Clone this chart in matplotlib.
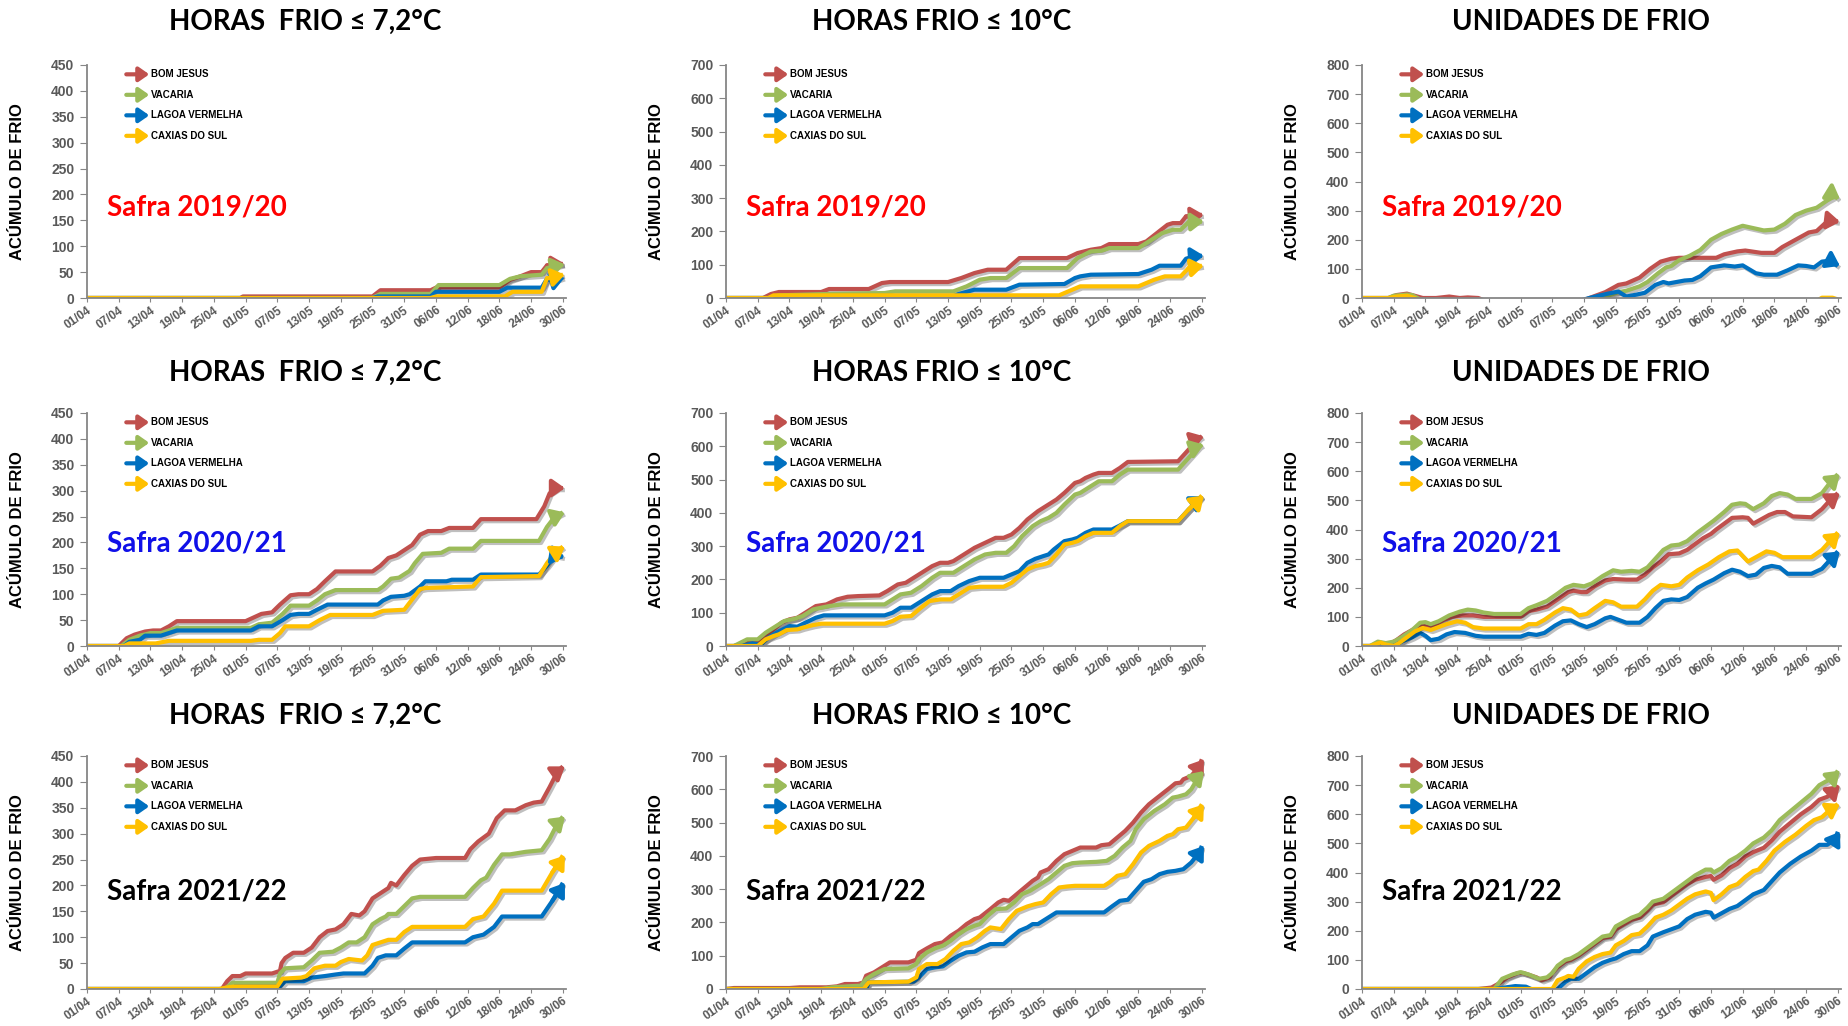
import matplotlib
matplotlib.use("Agg")
import matplotlib.pyplot as plt
import matplotlib.patheffects as pe

plt.rcParams['font.family'] = ['Lato', 'DejaVu Sans']

# x axis: day index, 0 = 01/04 ... 90 = 30/06
tick_days = [0, 6, 12, 18, 24, 30, 36, 42, 48, 54, 60, 66, 72, 78, 84, 90]
tick_labels = ["01/04", "07/04", "13/04", "19/04", "25/04", "01/05", "07/05", "13/05",
               "19/05", "25/05", "31/05", "06/06", "12/06", "18/06", "24/06", "30/06"]

stations = ["BOM JESUS", "VACARIA", "LAGOA VERMELHA", "CAXIAS DO SUL"]
colors = ["#C0504D", "#9BBB59", "#0070C0", "#FFC000"]

titles = ["HORAS  FRIO \u2264 7,2\u00b0C", "HORAS FRIO \u2264 10\u00b0C", "UNIDADES DE FRIO"]
y_max = [450, 700, 800]
y_step = [50, 100, 100]
safras = ["Safra 2019/20", "Safra 2020/21", "Safra 2021/22"]
safra_colors = ["#FF0000", "#1010E8", "#000000"]

# ---- Safra 2019/20 ----
hf7_1920_bj = [(0,0),(29,0),(29.5,3),(54,3),(55.5,15),(65,15),(66,20),(78,20),(80,35),(82,42),(84,50),(86,50),(87,63),(90,66)]
hf7_1920_vac = [(0,0),(54,0),(55.5,8),(65,8),(66.5,25),(78,25),(80,37),(82,42),(86,45),(87,58),(90,65)]
hf7_1920_lv = [(0,0),(54,0),(55,3),(65,3),(66,12),(78,12),(79.5,20),(86,20),(87,37),(88,33),(90,40)]
hf7_1920_cx = [(0,0),(65,0),(66,3),(79,3),(80.5,12),(86,12),(87,38),(90,45)]

hf10_1920_bj = [(0,0),(7,0),(8.5,12),(10,18),(18,18),(19.5,27),(27,27),(29.5,45),(31,48),(42,48),(44.5,60),(47,75),(49.5,85),(53,85),(55.5,120),(64.5,120),(66.5,135),(69,145),(71,150),(72.5,162),(78,162),(79.5,170),(81.5,195),(83.5,220),(84.5,225),(86,225),(87,245),(90,250)]
hf10_1920_vac = [(0,0),(8,0),(10,8),(19,12),(30,15),(32,20),(43,20),(45.5,35),(48,55),(50,60),(53,60),(55.5,90),(64.5,90),(66.5,120),(69,140),(71,142),(72.5,150),(78,150),(80.5,175),(82.5,195),(84.5,205),(86,205),(87.5,228),(90,230)]
hf10_1920_lv = [(0,0),(12,0),(13,5),(43,5),(44,12),(47,25),(53,25),(55.5,40),(64,42),(66,60),(67,65),(69,70),(78,72),(80.5,85),(82,97),(86,97),(87,118),(88.5,125),(90,127)]
hf10_1920_cx = [(0,0),(8,0),(9,8),(63,8),(65.5,25),(67,35),(78,35),(81,55),(83,65),(86,65),(87.5,90),(90,97)]

uf_1920_bj = [(0,0),(5,0),(6.5,10),(8.5,15),(11.5,0),(14,0),(16.5,5),(18.5,0),(20,2),(22,0),(24,-15),(41,-15),(43,0),(46,20),(48.5,45),(50,50),(52.5,70),(54.5,100),(56.5,125),(58.5,135),(60,138),(67,138),(68.5,150),(71,160),(72.5,163),(75.5,155),(78,155),(79.5,175),(82,200),(84.5,225),(86,230),(87.5,255),(89,265),(90,262)]
uf_1920_vac = [(0,0),(5,0),(6,8),(8.5,12),(9.5,10),(10.5,0),(12,-15),(42,-15),(44,0),(46,5),(48.5,20),(50,25),(52.5,40),(54,55),(56,85),(57.5,105),(58.5,110),(60,130),(62,145),(64,165),(66,200),(68,220),(70,235),(72,248),(74,240),(76,232),(78,235),(80,255),(82,285),(84,300),(86,310),(88,335),(89.5,350),(90,340)]
uf_1920_lv = [(0,0),(3,-10),(41,-10),(43,0),(46.5,15),(48.5,22),(50,5),(52,12),(53.5,18),(55.5,45),(57,55),(58,50),(59.5,55),(61,60),(62.5,62),(64,75),(66,105),(68.5,112),(70.5,108),(72,112),(74.5,85),(76,80),(78.5,80),(80.5,95),(82.5,112),(84,110),(85.5,105),(87,125),(88.5,128),(90,110)]
uf_1920_cx = [(0,0),(5,0),(6.5,5),(8.5,8),(10,0),(12,-20),(85,-20),(87,1),(89,1),(90,-5)]

# ---- Safra 2020/21 ----
hf7_2021_bj = [(0,0),(6,0),(7.5,15),(9,22),(11,28),(12.5,30),(14,30),(15.5,38),(17,48),(30,48),(31.5,55),(33,62),(35,65),(36.5,80),(38.5,98),(40,100),(42,100),(43.5,110),(45,125),(47,144),(54,144),(55.5,155),(57,170),(58.5,175),(60,185),(61.5,195),(63,215),(64.5,222),(67,222),(68.5,228),(73,228),(74.5,245),(85,245),(86.5,270),(87.5,295),(89,305),(90,305)]
hf7_2021_vac = [(0,0),(6.5,0),(8,12),(10,20),(12,25),(14,25),(15.5,30),(17,35),(31,35),(32.5,42),(35,45),(37,62),(38.5,78),(42,78),(43.5,88),(45,100),(47,108),(55,108),(56,115),(57.5,130),(59,132),(61,145),(62,160),(63.5,178),(67,180),(68.5,188),(73,188),(74.5,203),(85.5,203),(87,230),(88.5,250),(90,258)]
hf7_2021_lv = [(0,0),(7,0),(8,8),(10,12),(11,20),(14,20),(15.5,25),(17,30),(31,30),(32.5,38),(35,38),(37,50),(38.5,60),(40,62),(42,62),(43.5,70),(45.5,80),(55,80),(56,88),(57.5,95),(60,97),(61,100),(63,115),(64,125),(68,125),(69,128),(73,128),(74.5,138),(85.5,138),(87,155),(88.5,175),(90,172)]
hf7_2021_cx = [(0,0),(7,0),(8,5),(13,5),(15.5,10),(31,10),(32.5,12),(35,12),(36.5,25),(37.5,38),(42,38),(44,50),(46,60),(54,60),(56,68),(60,70),(61.5,90),(63,110),(64,112),(73,115),(74.5,133),(85.5,135),(87,160),(88.5,180),(90,192)]

hf10_2021_bj = [(0,0),(1.5,0),(4,12),(6,12),(7.5,30),(9,50),(10.5,70),(12,80),(13.5,85),(15,100),(17,120),(19,125),(21,140),(23,148),(25,150),(29,152),(30.5,165),(32.5,185),(34,190),(35,200),(37,220),(39,240),(40.5,250),(42,250),(43,255),(45,275),(47,295),(49,310),(51,325),(52.5,325),(54,335),(55.5,355),(57,380),(59,405),(61,425),(62.5,440),(64,460),(66,490),(67,495),(68,505),(69.5,515),(70.5,520),(73,520),(74.5,535),(76,553),(85.5,555),(87.5,590),(89.5,625),(90,630)]
hf10_2021_vac = [(0,0),(1.5,0),(4,20),(6,20),(7.5,40),(9,55),(11,75),(13,82),(14.5,90),(16.5,110),(18,115),(19.5,120),(22,125),(30,125),(31.5,140),(33,155),(35,160),(37,180),(39,205),(40.5,220),(43,220),(45,240),(47,260),(49,275),(51,280),(53,280),(54.5,300),(56,330),(58,360),(59.5,375),(61,385),(62.5,400),(64,425),(66,455),(67,460),(68.5,475),(70.5,495),(73,495),(74.5,515),(76,530),(85.5,530),(87.5,565),(89.5,600),(90,605)]
hf10_2021_lv = [(0,0),(3,0),(5,8),(6.5,3),(8,25),(9.5,40),(12,60),(13.5,58),(15,70),(17,85),(18.5,92),(30,92),(31.5,100),(33,115),(35,115),(37,135),(39,155),(40.5,165),(42.5,165),(44,180),(46,195),(48,205),(52.5,205),(54,215),(55.5,225),(57,250),(58.5,262),(60,270),(61,275),(62,290),(64,315),(65.5,320),(66.5,325),(68,340),(69.5,350),(73,350),(74.5,362),(76,375),(85.5,375),(87.5,410),(89.5,440),(90,450)]
hf10_2021_cx = [(0,0),(6,0),(7.5,20),(9,30),(10,35),(11.5,48),(13.5,50),(14.5,55),(16.5,63),(18,67),(30,67),(31.5,75),(33,88),(35,90),(36.5,110),(38.5,135),(40.5,140),(42.5,140),(44,155),(46,175),(48,178),(52.5,178),(54,190),(55.5,210),(57,230),(58.5,240),(60,245),(61,250),(62.5,275),(64,305),(65.5,310),(66.5,315),(68,330),(69.5,340),(73,340),(74.5,360),(76,375),(85.5,375),(87.5,410),(90,452)]

uf_2021_bj = [(0,0),(2,0),(5,5),(6.5,20),(8,40),(10,60),(11.5,70),(12.5,65),(14,75),(15.5,90),(17,100),(19,105),(21,105),(23,100),(30,100),(31.5,120),(33,125),(35,135),(37,160),(39,185),(40,190),(41.5,185),(42.5,185),(44,205),(46,225),(47.5,230),(50,228),(52,228),(53.5,245),(55,270),(56.5,290),(58,315),(60,318),(61.5,330),(63,350),(64.5,370),(66,385),(67,400),(68.5,420),(70,440),(72,442),(73,440),(74,420),(75,430),(77,450),(78.5,460),(80,460),(81.5,445),(85,442),(87,470),(88.5,500),(90,525)]
uf_2021_vac = [(0,0),(1.5,0),(3,15),(4.5,10),(6,15),(7.5,30),(9.5,55),(11,80),(12,82),(13,75),(14.5,85),(16.5,105),(18.5,118),(20,125),(21.5,122),(23,115),(25,110),(30,110),(31.5,130),(33,140),(35,155),(37,180),(38.5,200),(40,210),(42,205),(43.5,215),(45.5,240),(47.5,260),(49,255),(51,258),(52.5,255),(54,270),(55.5,300),(57,330),(58.5,345),(60,348),(61.5,360),(63.5,390),(65,410),(66.5,430),(68.5,460),(70,485),(71.5,490),(72.5,488),(74,470),(76,490),(77.5,515),(79,525),(80.5,520),(82,505),(85,505),(87,525),(88.5,560),(90,590)]
uf_2021_lv = [(0,0),(6,0),(7.5,15),(9.5,30),(11,45),(12,35),(13,20),(14.5,25),(16,40),(17.5,48),(19.5,45),(21.5,35),(23,32),(30,32),(31.5,42),(33,38),(34.5,45),(36.5,70),(38,85),(39.5,88),(41,75),(42.5,65),(44,75),(46,95),(47,100),(48.5,90),(50,80),(52.5,80),(54,100),(55.5,130),(57,155),(58.5,160),(60,158),(61.5,168),(63.5,200),(65,215),(66.5,228),(68.5,250),(70,262),(71.5,255),(73,240),(74.5,245),(76,268),(77.5,275),(79,270),(80.5,248),(85,248),(87,265),(88.5,295),(90,325)]
uf_2021_cx = [(0,0),(1.5,0),(3.5,12),(4.5,5),(6,0),(7,10),(8.5,30),(10,50),(11.5,62),(13,55),(14.5,65),(16,75),(18,85),(19.5,80),(21,65),(23,60),(30,60),(31.5,75),(33,75),(34.5,90),(36.5,115),(38,130),(39.5,125),(41,105),(42.5,110),(44,130),(46,155),(47.5,150),(49,135),(52,135),(53.5,160),(55,190),(56.5,210),(58.5,205),(60,210),(61.5,235),(63.5,260),(65.5,280),(67.5,305),(69.5,325),(71,328),(73,290),(75,310),(76.5,325),(78,320),(79.5,305),(85,305),(87,330),(88.5,360),(90,390)]

# ---- Safra 2021/22 ----
hf7_2122_bj = [(0,0),(25.5,0),(26.5,15),(27.5,25),(29,25),(30,30),(35,30),(36.5,35),(36.8,50),(37.5,60),(39,70),(41,70),(42.5,80),(44,100),(45.5,112),(47,115),(48.5,125),(50,145),(51.5,142),(52.5,150),(54,175),(55.5,185),(57,195),(57.5,205),(58.5,200),(60,220),(61.5,238),(63,250),(66,253),(71.5,253),(72.5,270),(74,285),(76,300),(77.5,330),(79,345),(81,345),(83,355),(84.5,360),(86,362),(87.5,390),(89,420),(90,430)]
hf7_2122_vac = [(0,0),(26,0),(27.5,12),(36,12),(36.5,30),(37.5,40),(41,42),(42.5,55),(44,70),(46.5,72),(48,80),(49.5,90),(51,90),(52.5,100),(54,125),(55.5,135),(56.5,140),(57,145),(58.5,145),(60,160),(61.5,175),(63,178),(71.5,178),(73,195),(74.5,210),(75.5,215),(77,240),(78.5,260),(80,260),(83,265),(86,268),(87.5,290),(89,320),(90,333)]
hf7_2122_lv = [(0,0),(27.5,0),(28,5),(36.5,5),(37.5,15),(41,15),(42.5,22),(45,25),(47,28),(48.5,30),(52.5,30),(54,45),(55,60),(56.5,65),(58.5,65),(60,78),(61.5,90),(71.5,90),(73,100),(75,105),(77,120),(78.5,140),(86,140),(88,170),(90,205)]
hf7_2122_cx = [(0,0),(25,0),(26.5,3),(28,5),(36,5),(37,20),(40.5,22),(41.5,25),(43,40),(45,45),(47,45),(48,52),(49.5,58),(52,55),(53,65),(54,85),(55.5,90),(57,95),(58.5,95),(60,110),(61.5,120),(71.5,120),(73,135),(75,140),(77,165),(78.5,190),(86,190),(88,225),(90,258)]

hf10_2122_bj = [(0,0),(1.5,3),(12,3),(14,5),(19,5),(21,8),(22.5,15),(25,15),(26,20),(26.5,40),(28,50),(29.5,65),(31,80),(34.5,80),(36,88),(36.5,108),(38,122),(39.5,135),(41,140),(42.5,160),(44,175),(45.5,195),(47,210),(48,215),(50,240),(51.5,260),(52.5,268),(53.5,265),(55,285),(56.5,305),(58,325),(59,335),(59.5,350),(61,360),(62.5,385),(64,405),(65.5,415),(67,425),(70,425),(71,432),(72.5,435),(74,455),(75.5,475),(77,500),(78.5,530),(80,555),(82,580),(84,605),(85,618),(86,620),(86.5,630),(88,640),(89.5,670),(90,690)]
hf10_2122_vac = [(0,0),(18,0),(20,5),(23,8),(25.5,10),(26.5,30),(28,45),(30,60),(34.5,62),(36,75),(36.5,90),(38,110),(39.5,122),(41,130),(42.5,145),(44,165),(45.5,180),(47,190),(48,195),(49.5,220),(51,240),(53,242),(54.5,260),(56,285),(57.5,295),(59,310),(60,320),(61,330),(62.5,350),(64,370),(65.5,378),(67,380),(70,382),(72,385),(73.5,400),(75,425),(76.5,445),(77.5,480),(79,510),(81,535),(83,555),(84.5,575),(85.5,578),(87,585),(88,600),(89.5,640),(90,655)]
hf10_2122_lv = [(0,0),(26.5,0),(27,20),(35.5,22),(36.5,35),(38,60),(39.5,65),(41,68),(42.5,85),(44,100),(45.5,110),(47,112),(48.5,125),(50,135),(52.5,135),(54,155),(55.5,175),(57,185),(58,195),(59,195),(60.5,210),(62.5,230),(71.5,230),(73,248),(74.5,265),(76,268),(77.5,295),(79,322),(80.5,330),(82,345),(83.5,352),(85,355),(86.5,360),(88,380),(89.5,410),(90,430)]
hf10_2122_cx = [(0,0),(26,0),(27,20),(34.5,22),(36,35),(36.5,60),(38,75),(40,75),(41.5,90),(43,115),(44.5,135),(46,140),(47.5,155),(49,175),(50,185),(52,180),(53.5,210),(55,235),(57,248),(58.5,255),(60,260),(61.5,285),(63,305),(64.5,308),(66,310),(71.5,310),(72.5,320),(74,340),(75.5,345),(77,375),(78.5,410),(80,430),(82,445),(83.5,460),(84.5,465),(85.5,480),(87,485),(88.5,515),(90,555)]

uf_2122_bj = [(0,0),(22,0),(24.5,5),(26,20),(27.5,40),(29.5,55),(30.5,55),(33,40),(34,30),(35.5,40),(36,55),(37,75),(38.5,95),(39.5,100),(41,115),(42.5,135),(44,155),(45.5,175),(47,180),(48,205),(49.5,222),(51,238),(52.5,245),(54,270),(55,290),(57,298),(58.5,320),(60,340),(61.5,360),(63,375),(65,385),(66,388),(66.5,375),(68,390),(69.5,415),(71,430),(72.5,455),(74,470),(76,485),(77.5,510),(79,540),(81,570),(83,600),(85,625),(86.5,650),(88,660),(89.5,685),(90,700)]
uf_2122_vac = [(0,0),(25,0),(26.5,35),(28.5,50),(30,58),(31.5,50),(33.5,35),(35,40),(36,55),(37,80),(38.5,100),(39.5,105),(41,120),(42.5,140),(44,160),(45.5,180),(47,185),(48,215),(49.5,230),(51,245),(52.5,255),(54,280),(55,300),(57,310),(58.5,330),(60,350),(61.5,370),(63,390),(65,410),(66,410),(66.5,400),(68,415),(69.5,440),(71,455),(72.5,475),(74,500),(76,520),(77.5,545),(79,580),(81,610),(83,640),(85,670),(86.5,700),(88,715),(89.5,735),(90,750)]
uf_2122_lv = [(0,0),(25,0),(27,5),(29,10),(31,8),(32,0),(33,-10),(36,-10),(37,0),(38.5,25),(39.5,35),(41,35),(42.5,55),(44,75),(45.5,90),(47,100),(48,105),(49.5,120),(51,130),(52.5,130),(54,150),(55,180),(57,195),(58.5,205),(60,215),(61.5,240),(63,255),(65,265),(66,262),(66.5,245),(68,260),(69.5,275),(71,285),(72.5,305),(74,325),(76,340),(77.5,370),(79,400),(81,430),(83,455),(85,475),(86.5,495),(88,495),(89.5,515),(90,540)]
uf_2122_cx = [(0,0),(36,0),(37,30),(38.5,40),(39,45),(40,42),(41,70),(42.5,95),(44,110),(45.5,120),(47,125),(48,150),(49.5,165),(51,185),(52.5,190),(54,215),(55.5,245),(57,255),(58.5,270),(60,290),(61.5,310),(63,325),(65,335),(66,330),(66.5,305),(68,325),(69.5,350),(71,360),(72.5,385),(74,405),(75,410),(76.5,440),(78,475),(80,505),(82,530),(84,560),(85.5,580),(87,590),(88.5,615),(90,635)]

grid = [
    [[hf7_1920_bj, hf7_1920_vac, hf7_1920_lv, hf7_1920_cx],
     [hf10_1920_bj, hf10_1920_vac, hf10_1920_lv, hf10_1920_cx],
     [uf_1920_bj, uf_1920_vac, uf_1920_lv, uf_1920_cx]],
    [[hf7_2021_bj, hf7_2021_vac, hf7_2021_lv, hf7_2021_cx],
     [hf10_2021_bj, hf10_2021_vac, hf10_2021_lv, hf10_2021_cx],
     [uf_2021_bj, uf_2021_vac, uf_2021_lv, uf_2021_cx]],
    [[hf7_2122_bj, hf7_2122_vac, hf7_2122_lv, hf7_2122_cx],
     [hf10_2122_bj, hf10_2122_vac, hf10_2122_lv, hf10_2122_cx],
     [uf_2122_bj, uf_2122_vac, uf_2122_lv, uf_2122_cx]],
]

W, H = 1849, 1026
left_px = [87, 726, 1362]
top_px = [65, 413, 756]
ax_w, ax_h = 479, 233
title_x_px = [305, 942, 1581]
title_y_px = [22, 373, 716]
safra_y = [0.39, 0.44, 0.42]
grey = "#595959"
axis_grey = "#868686"
small_font = ["Liberation Sans", "DejaVu Sans"]

shadow = [pe.SimpleLineShadow(offset=(1.5, -1.5), shadow_color="black", alpha=0.25), pe.Normal()]


def draw_panel(ax, series, ymax, ystep):
    for pts, color in zip(series, colors):
        xs = [p[0] for p in pts]
        ys = [p[1] for p in pts]
        ax.plot(xs, ys, color=color, lw=3, solid_joinstyle="round",
                solid_capstyle="butt", path_effects=shadow)
        ax.annotate("", xy=(xs[-1] + 0.4, ys[-1]), xytext=(xs[-2], ys[-2]),
                    arrowprops=dict(arrowstyle="-|>,head_length=0.5,head_width=0.35",
                                    color=color, lw=3, shrinkA=0, shrinkB=0,
                                    mutation_scale=15))
    ax.set_xlim(0, 90.6)
    ax.set_ylim(0, ymax)
    ax.set_yticks(list(range(0, ymax + 1, ystep)))
    ax.set_xticks(tick_days)
    ax.set_xticklabels(tick_labels, rotation=35, ha="right", va="top",
                       rotation_mode="anchor")
    for s in ["top", "right"]:
        ax.spines[s].set_visible(False)
    for s in ["left", "bottom"]:
        ax.spines[s].set_color(axis_grey)
        ax.spines[s].set_linewidth(1.3)
    ax.tick_params(axis="x", direction="out", length=3, color=axis_grey, pad=1.5,
                   labelsize=8.5, labelcolor=grey)
    ax.tick_params(axis="y", direction="out", length=5, color=axis_grey, pad=4,
                   labelsize=10, labelcolor=grey)
    for lab in ax.get_xticklabels() + ax.get_yticklabels():
        lab.set_fontweight("bold")
        lab.set_family(small_font)
    ax.set_ylabel("AC\u00daMULO DE FRIO", fontsize=12, fontweight="bold", family=small_font)
    ax.yaxis.set_label_coords(-0.13, 0.5)

    # legend with arrow markers
    for i, (name, color) in enumerate(zip(stations, colors)):
        y = 0.96 - i * 0.088
        ax.annotate("", xy=(0.13, y), xytext=(0.082, y), xycoords="axes fraction",
                    arrowprops=dict(arrowstyle="-|>,head_length=0.5,head_width=0.35",
                                    color=color, lw=3, shrinkA=0, shrinkB=0,
                                    mutation_scale=12))
        ax.text(0.134, y, name, transform=ax.transAxes, fontsize=7, family=small_font,
                fontweight="bold", va="center", ha="left", color="black")


fig = plt.figure(figsize=(W / 100, H / 100), dpi=100)

for r in range(3):
    for c in range(3):
        ax = fig.add_axes([left_px[c] / W, 1 - (top_px[r] + ax_h) / H, ax_w / W, ax_h / H])
        draw_panel(ax, grid[r][c], y_max[c], y_step[c])
        ax.text(0.042, safra_y[r], safras[r], transform=ax.transAxes, fontsize=20,
                fontweight="bold", color=safra_colors[r], va="center", ha="left")
        fig.text(title_x_px[c] / W, 1 - title_y_px[r] / H, titles[c], fontsize=20,
                 fontweight="bold", ha="center", va="center")

fig.savefig("out.png", dpi=100)
